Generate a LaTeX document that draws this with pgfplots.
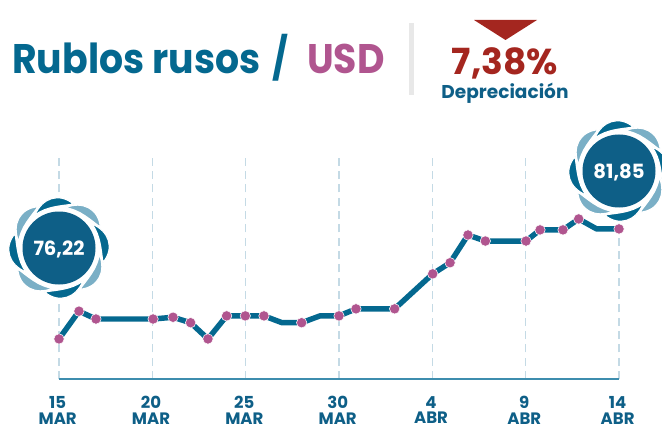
\documentclass[border=0pt]{standalone}
\usepackage{pgfplots}
\pgfplotsset{compat=1.18}
\usepackage{pgfplotstable}
\usepackage{fontspec}
\setmainfont{Poppins}
\definecolor{bluetitle}{HTML}{04688F}
\definecolor{bluedark}{HTML}{0E5F87}
\definecolor{bluelight}{HTML}{7AAFC6}
\definecolor{pinkm}{HTML}{B0558F}
\definecolor{redm}{HTML}{A4261F}
\definecolor{gridc}{HTML}{C4DAE5}
\definecolor{axisc}{HTML}{3E8DAE}
\pgfplotstableread{
x y
0 76.22
1.07 77.64
1.98 77.24
5.04 77.24
6.11 77.33
7.05 77.05
7.98 76.22
8.98 77.40
9.98 77.40
10.98 77.40
11.95 77.05
13.0 77.05
13.98 77.40
15 77.40
15.91 77.76
17.98 77.76
20.02 79.55
20.95 80.12
21.91 81.54
22.84 81.23
25.02 81.23
25.77 81.80
27 81.80
27.84 82.36
28.8 81.85
30 81.85
}\linedata
\pgfplotstableread{
x y
0 76.22
1.07 77.64
1.98 77.24
5.04 77.24
6.11 77.33
7.05 77.05
7.98 76.22
8.98 77.40
9.98 77.40
10.98 77.40
13.0 77.05
15 77.40
15.91 77.76
17.98 77.76
20.02 79.55
20.95 80.12
21.91 81.54
22.84 81.23
25.02 81.23
25.77 81.80
27 81.80
27.84 82.36
30 81.85
}\markdata
\newcommand\badge[3]{%
\begin{scope}[shift={(#1*0.75pt,319.5pt-#2*0.75pt)},x=0.75pt,y=0.75pt]
\fill[white] (0,0) circle (46);
\foreach \a/\c in {0/bluetitle,-45/bluelight,-90/bluetitle,-135/bluelight,-180/bluetitle,-225/bluelight,-270/bluetitle,-315/bluelight}{
\filldraw[fill=\c,draw=white,line width=0.9pt,rotate=\a] (-24,33) .. controls (-17,50) and (0,56) .. (14.5,44) .. controls (3,42) and (-12,42) .. (-24,33) -- cycle;
}
\fill[white] (0,0) circle (39.5);
\fill[bluedark] (0,0) circle (36.5);
\node[text=white,font=\fontsize{14.7}{16}\selectfont\bfseries] at (0,-1) {#3};
\end{scope}}
\begin{document}
\begin{tikzpicture}
\clip (0,0) rectangle (496.5pt,319.5pt);
\path (0,0) rectangle (496.5pt,319.5pt);
\begin{axis}[
  at={(44.25pt,35.25pt)},anchor=south west,
  scale only axis,width=420pt,height=166.5pt,
  xmin=0,xmax=30,ymin=74.17,ymax=85.53,
  axis x line=bottom,axis y line=none,clip=false,
  axis line style={draw=axisc,line width=1.1pt,-},
  xtick={0,5,10,15,20,25,30},
  xticklabels={{15\\MAR},{20\\MAR},{25\\MAR},{30\\MAR},{4\\ABR},{9\\ABR},{14\\ABR}},
  xticklabel style={align=center,text=bluedark,font=\fontsize{12.4}{11.5}\selectfont\bfseries,inner sep=0pt,yshift=-13pt,xshift=-1pt},
  major tick length=0pt,
  xmajorgrids,
  grid style={draw=gridc,line width=1.1pt,dash pattern=on 6pt off 4pt},
]
\addplot[bluetitle,line width=4.1pt,line join=round,no marks] table[x=x,y=y] {\linedata};
\addplot[only marks,mark=*,mark size=3.9pt,mark options={fill=pinkm,draw=white,line width=0.4pt}] table[x=x,y=y] {\markdata};
\end{axis}
\badge{59}{248}{76,22}
\badge{619}{171}{81,85}
\begin{scope}[shift={(0,319.5pt)},x=0.75pt,y=-0.75pt]
\node[anchor=base west,inner sep=0pt,xscale=0.915,text=bluetitle,font=\fontsize{31}{34}\selectfont\bfseries] at (12,73) {Rublos rusos};
\node[anchor=base west,inner sep=0pt,xscale=0.85,text=bluetitle,font=\fontsize{31}{34}\selectfont\bfseries] at (272,73) {/};
\node[anchor=base west,inner sep=0pt,xscale=0.915,text=pinkm,font=\fontsize{31}{34}\selectfont\bfseries] at (307,73) {USD};
\fill[black!9] (409,23) rectangle (414,95);
\fill[redm] (474,20) -- (537,20) -- (505.5,40) -- cycle;
\node[anchor=base,inner sep=0pt,text=redm,font=\fontsize{27}{30}\selectfont\bfseries] at (505,75) {7,38\%};
\node[anchor=base,inner sep=0pt,text=bluedark,font=\fontsize{13.9}{15}\selectfont\bfseries] at (505,98.5) {Depreciación};
\end{scope}
\end{tikzpicture}
\end{document}
